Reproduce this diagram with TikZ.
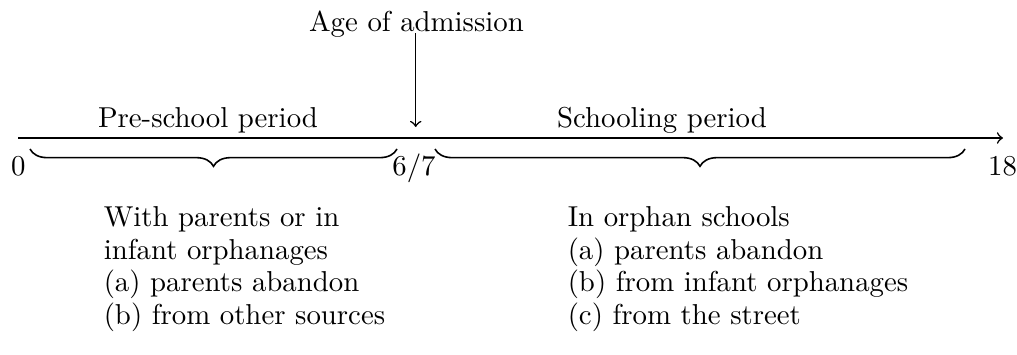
\documentclass[tikz,border=0pt]{standalone}
\usetikzlibrary{decorations.pathreplacing}
\begin{document}
\begin{tikzpicture}[x=0.34722pt,y=-0.34722pt,
  line width=0.55pt,
  lbl/.style={inner sep=0pt, font=\fontsize{10}{12}\selectfont},
  block/.style={inner sep=0pt, anchor=north west, align=left, font=\fontsize{10}{11.3}\selectfont},
  brc/.style={decorate, decoration={brace, amplitude=6pt, mirror}},
  axisline/.style={->},
  markarrow/.style={->}]
\useasboundingbox (0,0) rectangle (1017,355);
% axis
\coordinate (axstart) at (18.3,138);
\coordinate (axend) at (1003,138);
\draw[axisline] (axstart) -- (axend);
% age of admission
\node[lbl, anchor=base] (age) at (416.5,32) {Age of admission};
\coordinate (agetop) at (415.7,33);
\coordinate (agetip) at (415.7,127);
\draw[markarrow] (agetop) -- (agetip);
% period labels
\node[lbl, anchor=base] (pre) at (208,127) {Pre-school period};
\node[lbl, anchor=base] (sch) at (662,127) {Schooling period};
% numbers
\node[lbl, anchor=base] (n0) at (18.3,175) {0};
\node[lbl, anchor=base] (n67) at (414,175) {6/7};
\node[lbl, anchor=base] (n18) at (1002.5,175) {18};
% braces
\coordinate (b1l) at (30,149);
\coordinate (b1r) at (397,149);
\coordinate (b2l) at (435,149);
\coordinate (b2r) at (965,149);
\draw[brc] (b1l) -- (b1r);
\draw[brc] (b2l) -- (b2r);
% text blocks
\node[block] (left) at (103,206) {With parents or in\\infant orphanages\\(a) parents abandon\\(b) from other sources};
\node[block] (right) at (567,206) {In orphan schools\\(a) parents abandon\\(b) from infant orphanages\\(c) from the street};
\end{tikzpicture}
\end{document}
